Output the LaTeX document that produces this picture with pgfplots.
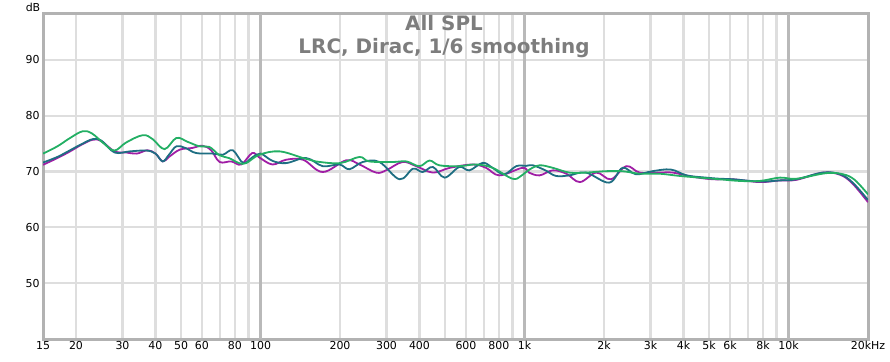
\documentclass[border=0pt]{standalone}
\usepackage{pgfplots}
\pgfplotsset{compat=1.18}
\usepackage{fontspec}
\setmainfont{DejaVu Sans}
\definecolor{cmag}{RGB}{160,30,165}
\definecolor{cteal}{RGB}{30,110,130}
\definecolor{cgreen}{RGB}{35,175,100}
\definecolor{gridl}{RGB}{222,222,222}
\definecolor{gridd}{RGB}{185,185,185}
\definecolor{frame}{RGB}{178,178,178}
\definecolor{titlegray}{RGB}{125,125,125}
\begin{document}
\begin{tikzpicture}[x=1bp,y=1bp]
\path[use as bounding box] (0,0) rectangle (890,361);
\begin{axis}[
  at={(43bp,22bp)}, anchor=south west,
  scale only axis, width=825bp, height=325bp,
  xmode=log, xmin=15, xmax=20000, ymin=40, ymax=98.2,
  xtick={15,20,30,40,50,60,80,100,200,300,400,600,800,1000,2000,3000,4000,5000,6000,8000,10000,20000},
  xticklabels={15,20,30,40,50,60,80,100,200,300,400,600,800,1k,2k,3k,4k,5k,6k,8k,10k,20kHz},
  minor xtick={70,90,500,700,900,7000,9000},
  extra x ticks={100,1000,10000}, extra x tick labels={},
  extra x tick style={grid=major, major grid style={gridd, line width=2.2bp}},
  ytick={50,60,70,80,90},
  /pgf/number format/assume math mode=true,
  tick label style={font=\fontsize{11}{13}\selectfont, black},
  xticklabel style={yshift=1bp},
  major tick length=0pt, minor tick length=0pt,
  grid=both,
  major grid style={gridl, line width=2.2bp},
  minor grid style={gridl, line width=2.2bp},
  axis line style={frame, line width=3bp},
  clip=true,
]
\addplot[cmag, line width=1.8bp, smooth, tension=0.6] coordinates {
(15,71.2) (17,72.4) (19,73.6) (21,74.8) (23.2,75.7) (25,75.4) (28,73.6) (31,73.4) (34,73.2) (37.3,73.8) (40,73.2) (42.6,71.8) (45,72.6) (49.4,73.9) (55,74.2) (60.3,74.6) (65,73.8) (70,71.7) (77.5,71.8) (84.5,71.25) (93,73.3) (99,72.5) (111,71.25) (125,72.1) (145,72.1) (172,69.9) (211,72.0) (237,71.25) (274,69.8) (299,70.2) (345,71.7) (389,70.95) (450,69.8) (521,70.65) (636,71.25) (715,70.65) (804,69.3) (983,70.65) (1040,69.8) (1140,69.3) (1280,70.2) (1440,69.6) (1620,68.1) (1870,69.8) (2125,68.6) (2430,70.95) (2730,69.8) (3240,69.8) (3640,69.8) (4340,69.05) (5170,68.6) (6160,68.6) (7780,68.1) (9280,68.4) (10700,68.5) (13500,69.8) (15700,69.4) (17500,67.8) (20000,64.5)
};
\addplot[cteal, line width=1.8bp, smooth, tension=0.6] coordinates {
(15,71.6) (17,72.6) (19,73.8) (21,74.9) (23.2,75.8) (25,75.5) (28,73.4) (32,73.6) (37,73.75) (40,73.2) (42.6,71.8) (45,73.0) (48,74.5) (52,74.2) (57,73.3) (66,73.2) (72,73.0) (78.5,73.8) (86,71.5) (93,72.5) (100,73.2) (111,71.9) (125,71.5) (149,72.4) (172,70.95) (199,71.25) (217,70.4) (244,71.7) (282,71.7) (336,68.6) (378,70.5) (411,69.9) (450,70.8) (498,68.9) (566,70.8) (618,70.2) (695,71.55) (757,70.65) (837,69.5) (930,70.95) (1013,71.0) (1076,71.1) (1200,70.2) (1315,69.2) (1478,69.3) (1709,69.8) (2093,68.0) (2350,70.65) (2640,69.5) (3050,70.05) (3580,70.35) (4110,69.3) (4870,68.9) (5480,68.7) (6160,68.6) (7780,68.2) (9280,68.4) (10700,68.6) (13500,69.8) (15700,69.5) (17500,68.0) (20000,64.9)
};
\addplot[cgreen, line width=1.8bp, smooth, tension=0.6] coordinates {
(15,73.2) (17,74.5) (19,76.0) (21.2,77.2) (23,76.8) (25.5,75.0) (28,73.75) (31,75.2) (35.8,76.5) (39,75.8) (43.3,74.0) (48,76.0) (53,75.3) (58.7,74.5) (64,74.4) (70,72.9) (76,72.4) (83,71.5) (88.3,71.5) (99,73.0) (118,73.6) (145,72.4) (162,71.8) (200,71.5) (237,72.6) (258,71.8) (317,71.7) (357,71.8) (400,70.95) (437,71.96) (476,71.1) (566,70.95) (656,71.25) (757,70.65) (900,68.7) (970,69.2) (1040,70.3) (1140,71.1) (1280,70.65) (1478,69.8) (1709,69.8) (2030,70.05) (2350,70.05) (2730,69.6) (3240,69.6) (3870,69.2) (4590,68.9) (5480,68.6) (6560,68.3) (7780,68.3) (9280,68.9) (10700,68.7) (13900,69.7) (16100,69.5) (17800,68.5) (20000,65.9)
};
\end{axis}
\node[anchor=base, font=\bfseries\fontsize{20}{22}\selectfont, text=titlegray] at (444,331) {All SPL};
\node[anchor=base, font=\bfseries\fontsize{20}{22}\selectfont, text=titlegray] at (444,308) {LRC, Dirac, 1/6 smoothing};
\node[font=\fontsize{11}{13}\selectfont] at (33,354) {dB};
\end{tikzpicture}
\end{document}
